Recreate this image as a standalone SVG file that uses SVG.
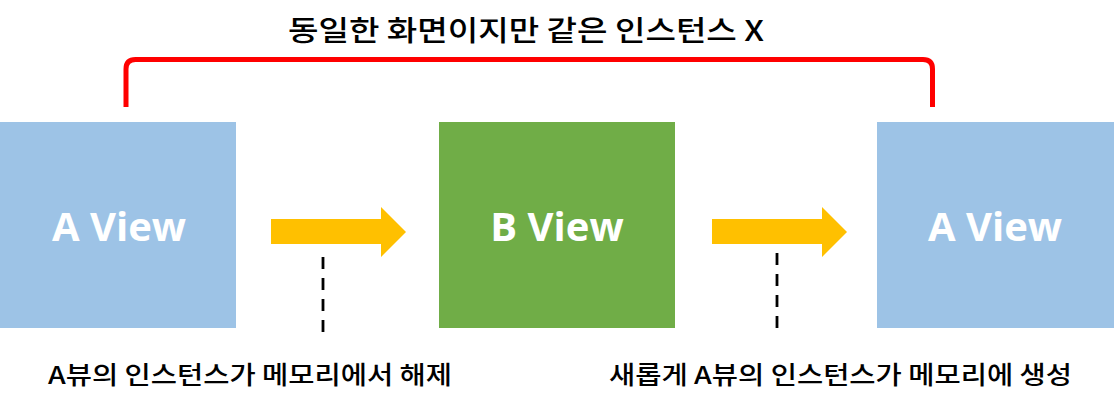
<svg xmlns="http://www.w3.org/2000/svg" width="1114" height="410" viewBox="0 0 1114 410">
<style>
.box-a{fill:#9DC3E6}
.box-b{fill:#70AD47}
.box-label{font-family:"Open Sans","Noto Sans",sans-serif;font-weight:bold;font-size:40px;fill:#FFFFFF;text-anchor:middle}
.arrow{fill:#FFC000}
.dash{stroke:#000000;stroke-width:2.8;stroke-dasharray:12 9;fill:none}
.bracket{stroke:#FF0000;stroke-width:5;fill:none;stroke-linejoin:round}
.cap{font-family:"Noto Sans CJK KR","Noto Sans",sans-serif;font-weight:500;fill:#000000}
</style>
<rect width="1114" height="410" fill="#FFFFFF"/>
<g id="title">
<text class="cap" x="288" y="41" font-size="28.5" textLength="476" lengthAdjust="spacingAndGlyphs">동일한 화면이지만 같은 인스턴스 X</text>
</g>
<g id="node-a1">
<rect class="box-a" x="0" y="122" width="236" height="206"/>
<text class="box-label" x="119" y="241">A View</text>
</g>
<g id="node-b">
<rect class="box-b" x="439" y="122" width="236" height="206"/>
<text class="box-label" x="557" y="241">B View</text>
</g>
<g id="node-a2">
<rect class="box-a" x="877" y="122" width="237" height="206"/>
<text class="box-label" x="995" y="241">A View</text>
</g>
<g id="connectors">
<path class="bracket" d="M126,107 L126,69 Q126,59.5 135.5,59.5 L923,59.5 Q932.5,59.5 932.5,69 L932.5,107"/>
<polygon class="arrow" points="271,219 381,219 381,207 406,232 381,257 381,244 271,244"/>
<polygon class="arrow" points="712,219 822,219 822,207 847,232 822,257 822,244 712,244"/>
<line class="dash" x1="323" y1="257" x2="323" y2="333"/>
<line class="dash" x1="777" y1="253" x2="777" y2="333"/>
</g>
<g id="label-release">
<text class="cap" x="48" y="384" font-size="24.5" textLength="404" lengthAdjust="spacingAndGlyphs">A뷰의 인스턴스가 메모리에서 해제</text>
</g>
<g id="label-create">
<text class="cap" x="609" y="384" font-size="24.5" textLength="463" lengthAdjust="spacingAndGlyphs">새롭게 A뷰의 인스턴스가 메모리에 생성</text>
</g>
</svg>
